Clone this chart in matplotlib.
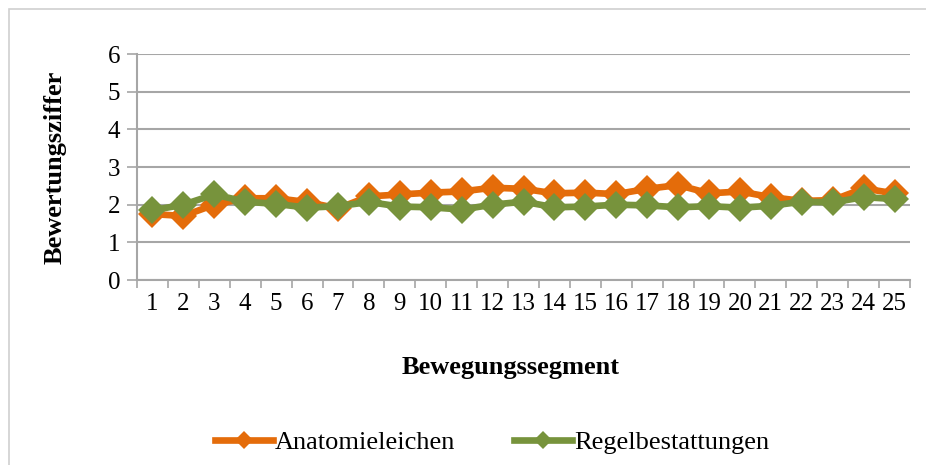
import matplotlib
matplotlib.use("Agg")
import matplotlib.pyplot as plt
from matplotlib.lines import Line2D
from matplotlib.patches import Rectangle

segments = list(range(1, 26))
anatomieleichen = [1.75, 1.70, 2.00, 2.17, 2.17, 2.07, 1.90, 2.22, 2.27, 2.32,
                   2.35, 2.45, 2.42, 2.30, 2.32, 2.28, 2.42, 2.52, 2.30, 2.35,
                   2.20, 2.10, 2.12, 2.43, 2.30]
regelbestattungen = [1.85, 2.00, 2.27, 2.08, 2.02, 1.92, 1.96, 2.07, 1.95, 1.93,
                     1.87, 2.00, 2.08, 1.93, 1.95, 2.00, 1.98, 1.93, 1.96, 1.92,
                     1.97, 2.08, 2.06, 2.20, 2.15]
y_ticks = [0, 1, 2, 3, 4, 5, 6]

orange = "#E46C0A"
green = "#77933C"
grid_grey = "#A6A6A6"

plt.rcParams["font.family"] = ["Liberation Serif", "DejaVu Serif"]

fig = plt.figure(figsize=(9.26, 4.65), dpi=100)
fig.patches.append(Rectangle((9 / 926, -0.05), 1.0, 1.05 - 9 / 465,
                             transform=fig.transFigure, fill=False,
                             edgecolor="#D0D0D0", linewidth=1.2))

ax = fig.add_axes([137 / 926, 1 - 280 / 465, (910 - 137) / 926, (280 - 54) / 465])

ax.plot(segments, anatomieleichen, color=orange, lw=4.8, marker="D",
        markersize=14.5, markeredgewidth=0, zorder=3, solid_joinstyle="round")
ax.plot(segments, regelbestattungen, color=green, lw=4.8, marker="D",
        markersize=14.5, markeredgewidth=0, zorder=4, solid_joinstyle="round")

ax.set_xlim(0.5, 25.5)
ax.set_ylim(0, 6)
ax.set_yticks(y_ticks)
ax.set_xticks(segments)
ax.set_xticks([s + 0.5 for s in [0] + segments], minor=True)
ax.tick_params(axis="x", which="major", length=0, pad=9, labelsize=18)
ax.tick_params(axis="x", which="minor", length=6, width=1.2, color=grid_grey)
ax.tick_params(axis="y", length=7, width=1.2, color=grid_grey, pad=5, labelsize=18)

ax.yaxis.grid(True, color=grid_grey, linewidth=1.5, zorder=0)
ax.set_axisbelow(True)
for side in ("top", "right"):
    ax.spines[side].set_visible(False)
for side in ("left", "bottom"):
    ax.spines[side].set_color(grid_grey)
    ax.spines[side].set_linewidth(1.5)

fig.text(55 / 926, 1 - 167 / 465, "Bewertungsziffer", rotation=90,
         ha="center", va="center", fontsize=19, fontweight="bold")
fig.text(511 / 926, 1 - 367 / 465, "Bewegungssegment",
         ha="center", va="center", fontsize=19, fontweight="bold")

handles = [
    Line2D([], [], color=orange, lw=4.8, marker="D", markersize=9, markeredgewidth=0),
    Line2D([], [], color=green, lw=4.8, marker="D", markersize=9, markeredgewidth=0),
]
fig.legend(handles, ["Anatomieleichen", "Regelbestattungen"], loc="center",
           bbox_to_anchor=(492 / 926, 1 - 442 / 465), ncol=2, frameon=False,
           fontsize=19, handlelength=2.2, handletextpad=0.1, columnspacing=2.2)

fig.savefig("out.png", dpi=100)
